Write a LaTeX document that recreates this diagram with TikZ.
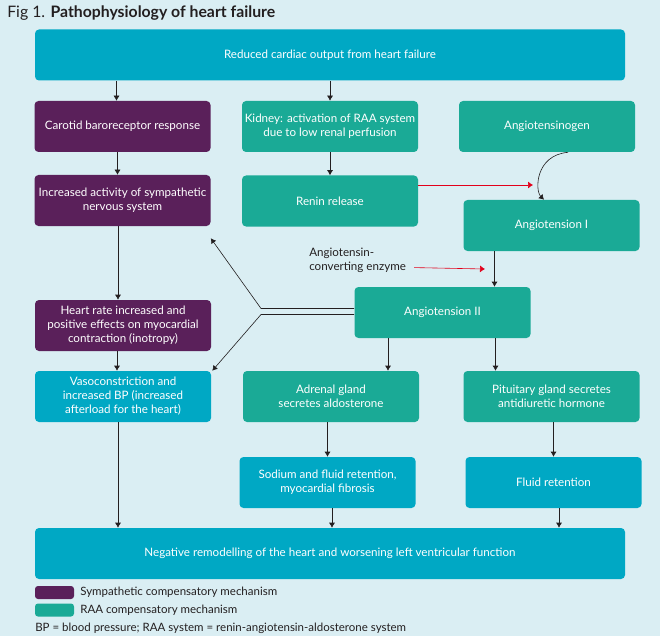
\documentclass[tikz,border=0pt]{standalone}
\usepackage{fontspec}
\setmainfont{Lato}
\usetikzlibrary{arrows.meta}

\definecolor{bgblue}{RGB}{218,238,243}
\definecolor{cyanbox}{RGB}{0,168,196}
\definecolor{greenbox}{RGB}{26,170,150}
\definecolor{purplebox}{RGB}{90,32,90}
\definecolor{inkgray}{RGB}{35,31,32}
\definecolor{inkred}{RGB}{226,0,26}

\begin{document}
\begin{tikzpicture}[x=1pt,y=-1pt,>={Latex[length=5pt,width=6pt]},line width=0.6pt,
  box/.style={rounded corners=4pt,text=white,align=center,inner sep=0pt,
    minimum width=176pt,minimum height=51pt,font=\fontsize{11.6}{14}\selectfont},
  sympbox/.style={box,fill=purplebox},
  raabox/.style={box,fill=greenbox},
  outbox/.style={box,fill=cyanbox},
  widebox/.style={outbox,minimum width=590pt},
  swatch/.style={rounded corners=3pt,inner sep=0pt,minimum width=39pt,minimum height=13pt},
  legendtext/.style={anchor=west,inner sep=0pt,text=inkgray,font=\fontsize{11.5}{13}\selectfont},
  flow/.style={->,draw=inkgray},
  redflow/.style={->,draw=inkred,>={Latex[length=5pt,width=7pt]}}]

% Background and size
\fill[bgblue] (0,0) rectangle (660,636);
\useasboundingbox (0,0) rectangle (660,636);

% Title
\node[anchor=west,inner sep=0pt,text=inkgray,font=\fontsize{15.8}{18}\selectfont] (title) at (7,13)
  {Fig 1. \textbf{Pathophysiology of heart failure}};

% Top and bottom boxes
\node[widebox,minimum height=51pt] (top) at (330,55) {Reduced cardiac output from heart failure};
\node[widebox] (bottom) at (330,553.5) {Negative remodelling of the heart and worsening left ventricular function};

% Sympathetic column
\node[sympbox] (carotid) at (122.5,126.5) {Carotid baroreceptor response};
\node[sympbox] (sym) at (122.5,200.5) {Increased activity of sympathetic\\nervous system};
\node[sympbox] (heart) at (123,325.5) {Heart rate increased and\\positive effects on myocardial\\contraction (inotropy)};
\node[outbox] (vaso) at (123,396.5) {Vasoconstriction and\\increased BP (increased\\afterload for the heart)};

% RAA system
\node[raabox] (kidney) at (330,126.5) {Kidney: activation of RAA system\\due to low renal perfusion};
\node[raabox] (renin) at (330,201) {Renin release};
\node[raabox] (angen) at (547,126.5) {Angiotensinogen};
\node[raabox] (angI) at (551.5,225.5) {Angiotension I};
\node[raabox] (angII) at (442.5,312.5) {Angiotension II};
\node[raabox] (adrenal) at (331,396.5) {Adrenal gland\\secretes aldosterone};
\node[raabox] (pituitary) at (551.5,396.5) {Pituitary gland secretes\\antidiuretic hormone};
\node[outbox] (sodium) at (327.5,482.5) {Sodium and fluid retention,\\myocardial fibrosis};
\node[outbox] (fluid) at (553.5,482.5) {Fluid retention};

% Enzyme label
\node[anchor=north west,inner sep=0pt,align=left,text=inkgray,font=\fontsize{11.6}{14}\selectfont] (ace) at (309,248)
  {Angiotensin-\\converting enzyme};

% Straight arrows
\foreach \a/\b/\dx in {top/carotid/-6,top/kidney/0,carotid/sym/-5,sym/heart/-5,heart/vaso/-6,
    kidney/renin/0,angI/angII/52,angII/adrenal/57,angII/pituitary/-56,adrenal/sodium/0,
    pituitary/fluid/0,sodium/bottom/2,fluid/bottom/229,vaso/bottom/-212} {
  \draw[flow] ([xshift=\dx pt]\b.north |- \a.south) -- ([xshift=\dx pt]\b.north);
}

% Red arrows
\coordinate (reninend) at (533,185);
\coordinate (aceend) at (485,269);
\draw[redflow] ([yshift=16pt]renin.east) -- (reninend);
\draw[redflow] ([xshift=8pt,yshift=-7pt]ace.east) -- (aceend);

% Angiotensinogen to angiotension I
\coordinate (angItip) at ([xshift=-7.5pt]angI.north);
\draw[flow] ([xshift=21pt]angen.south) .. controls +(-33,3) and +(-9,-9) .. (angItip);

% Angiotension II back to the sympathetic column
\coordinate (bendup) at ([yshift=4pt]angII.west -| 261,0);
\coordinate (bendlo) at ([yshift=-2pt]angII.west -| 261,0);
\coordinate (symtip) at ([yshift=-12pt]sym.south east);
\coordinate (vasotip) at ([xshift=1pt]vaso.north east);
\draw[flow] ([yshift=4pt]angII.west) -- (bendup) -- (symtip);
\draw[flow] ([yshift=-2pt]angII.west) -- (bendlo) -- (vasotip);

% Legend
\node[swatch,fill=purplebox] (keysymp) at (54.5,592.5) {};
\node[swatch,fill=greenbox] (keyraa) at (54.5,610) {};
\node[legendtext] (keysymptext) at (80,592.5) {Sympathetic compensatory mechanism};
\node[legendtext] (keyraatext) at (80,610) {RAA compensatory mechanism};
\node[legendtext] (footnote) at (35,628) {BP = blood pressure; RAA system = renin-angiotensin-aldosterone system};

\end{tikzpicture}
\end{document}
